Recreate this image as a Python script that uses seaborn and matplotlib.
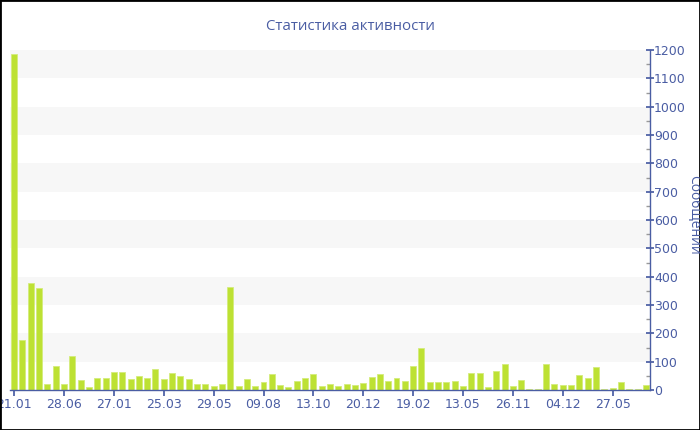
import matplotlib
matplotlib.use("Agg")
import matplotlib.pyplot as plt
from matplotlib.ticker import MultipleLocator
import seaborn as sns
import pandas as pd

# messages per period
messages = [
    1185, 176, 376, 360, 22, 86, 22, 121, 35, 11,
    41, 41, 62, 62, 39, 48, 42, 75, 40, 61,
    51, 39, 22, 22, 15, 21, 365, 14, 38, 14,
    28, 55, 19, 12, 33, 42, 55, 15, 20, 14,
    21, 19, 24, 47, 56, 31, 42, 32, 84, 147,
    28, 27, 27, 31, 14, 59, 61, 12, 67, 91,
    14, 35, 5, 5, 92, 21, 19, 19, 53, 42,
    80, 5, 7, 28, 5, 5, 16,
]
tick_labels = ["21.01", "28.06", "27.01", "25.03", "29.05", "09.08", "13.10",
               "20.12", "19.02", "13.05", "26.11", "04.12", "27.05"]
tick_step = 6

title = "Статистика активности"
ylabel = "Сообщений"

blue = "#4a5da3"
bar_color = "#bde133"

df = pd.DataFrame({"pos": range(len(messages)), "messages": messages})

sns.set_theme(style="white")
plt.rcParams["font.family"] = ["DejaVu Sans"]

fig = plt.figure(figsize=(7, 4.3), dpi=100)
ax = fig.add_axes([10 / 700, 40 / 430, 640 / 700, 340 / 430])

# alternating horizontal bands
for lo in range(100, 1200, 200):
    ax.axhspan(lo, lo + 100, color="#f7f7f7", zorder=0, lw=0)

sns.barplot(data=df, x="pos", y="messages", color=bar_color, saturation=1,
            width=0.72, edgecolor="#d4ec7c", linewidth=0.6, ax=ax, zorder=2)

ax.set_xlim(-0.5, len(messages) - 0.5)
ax.set_ylim(0, 1200)
ax.set_xticks(range(0, len(messages), tick_step)[:len(tick_labels)])
ax.set_xticklabels(tick_labels)
ax.set_xlabel("")

ax.yaxis.tick_right()
ax.yaxis.set_label_position("right")
ax.yaxis.set_major_locator(MultipleLocator(100))
ax.yaxis.set_minor_locator(MultipleLocator(50))
ax.set_ylabel("")

for s in ["top", "left"]:
    ax.spines[s].set_visible(False)
for s in ["bottom", "right"]:
    ax.spines[s].set_color(blue)
    ax.spines[s].set_linewidth(1)

ax.tick_params(axis="x", which="major", bottom=True, direction="out", length=4,
               color=blue, labelcolor=blue, labelsize=9, pad=2)
ax.tick_params(axis="y", which="major", right=True, left=False, direction="inout",
               length=6, color=blue, labelcolor=blue, labelsize=9, pad=0)
ax.tick_params(axis="y", which="minor", right=True, left=False, direction="in",
               length=3, color="#999999")

fig.text(0.5, 1 - 26 / 430, title, ha="center", va="center", color=blue,
         fontsize=10.8, family=["Open Sans", "DejaVu Sans"])
fig.text(694 / 700, 1 - 215 / 430, ylabel, ha="center", va="center", color=blue,
         rotation=270, fontsize=10, family=["Open Sans", "DejaVu Sans"])

# frame around the whole picture
fig.patches.append(plt.Rectangle((0, 0), 1, 1, transform=fig.transFigure,
                                 fill=False, edgecolor="black", linewidth=2))

fig.savefig("out.png", dpi=100)
